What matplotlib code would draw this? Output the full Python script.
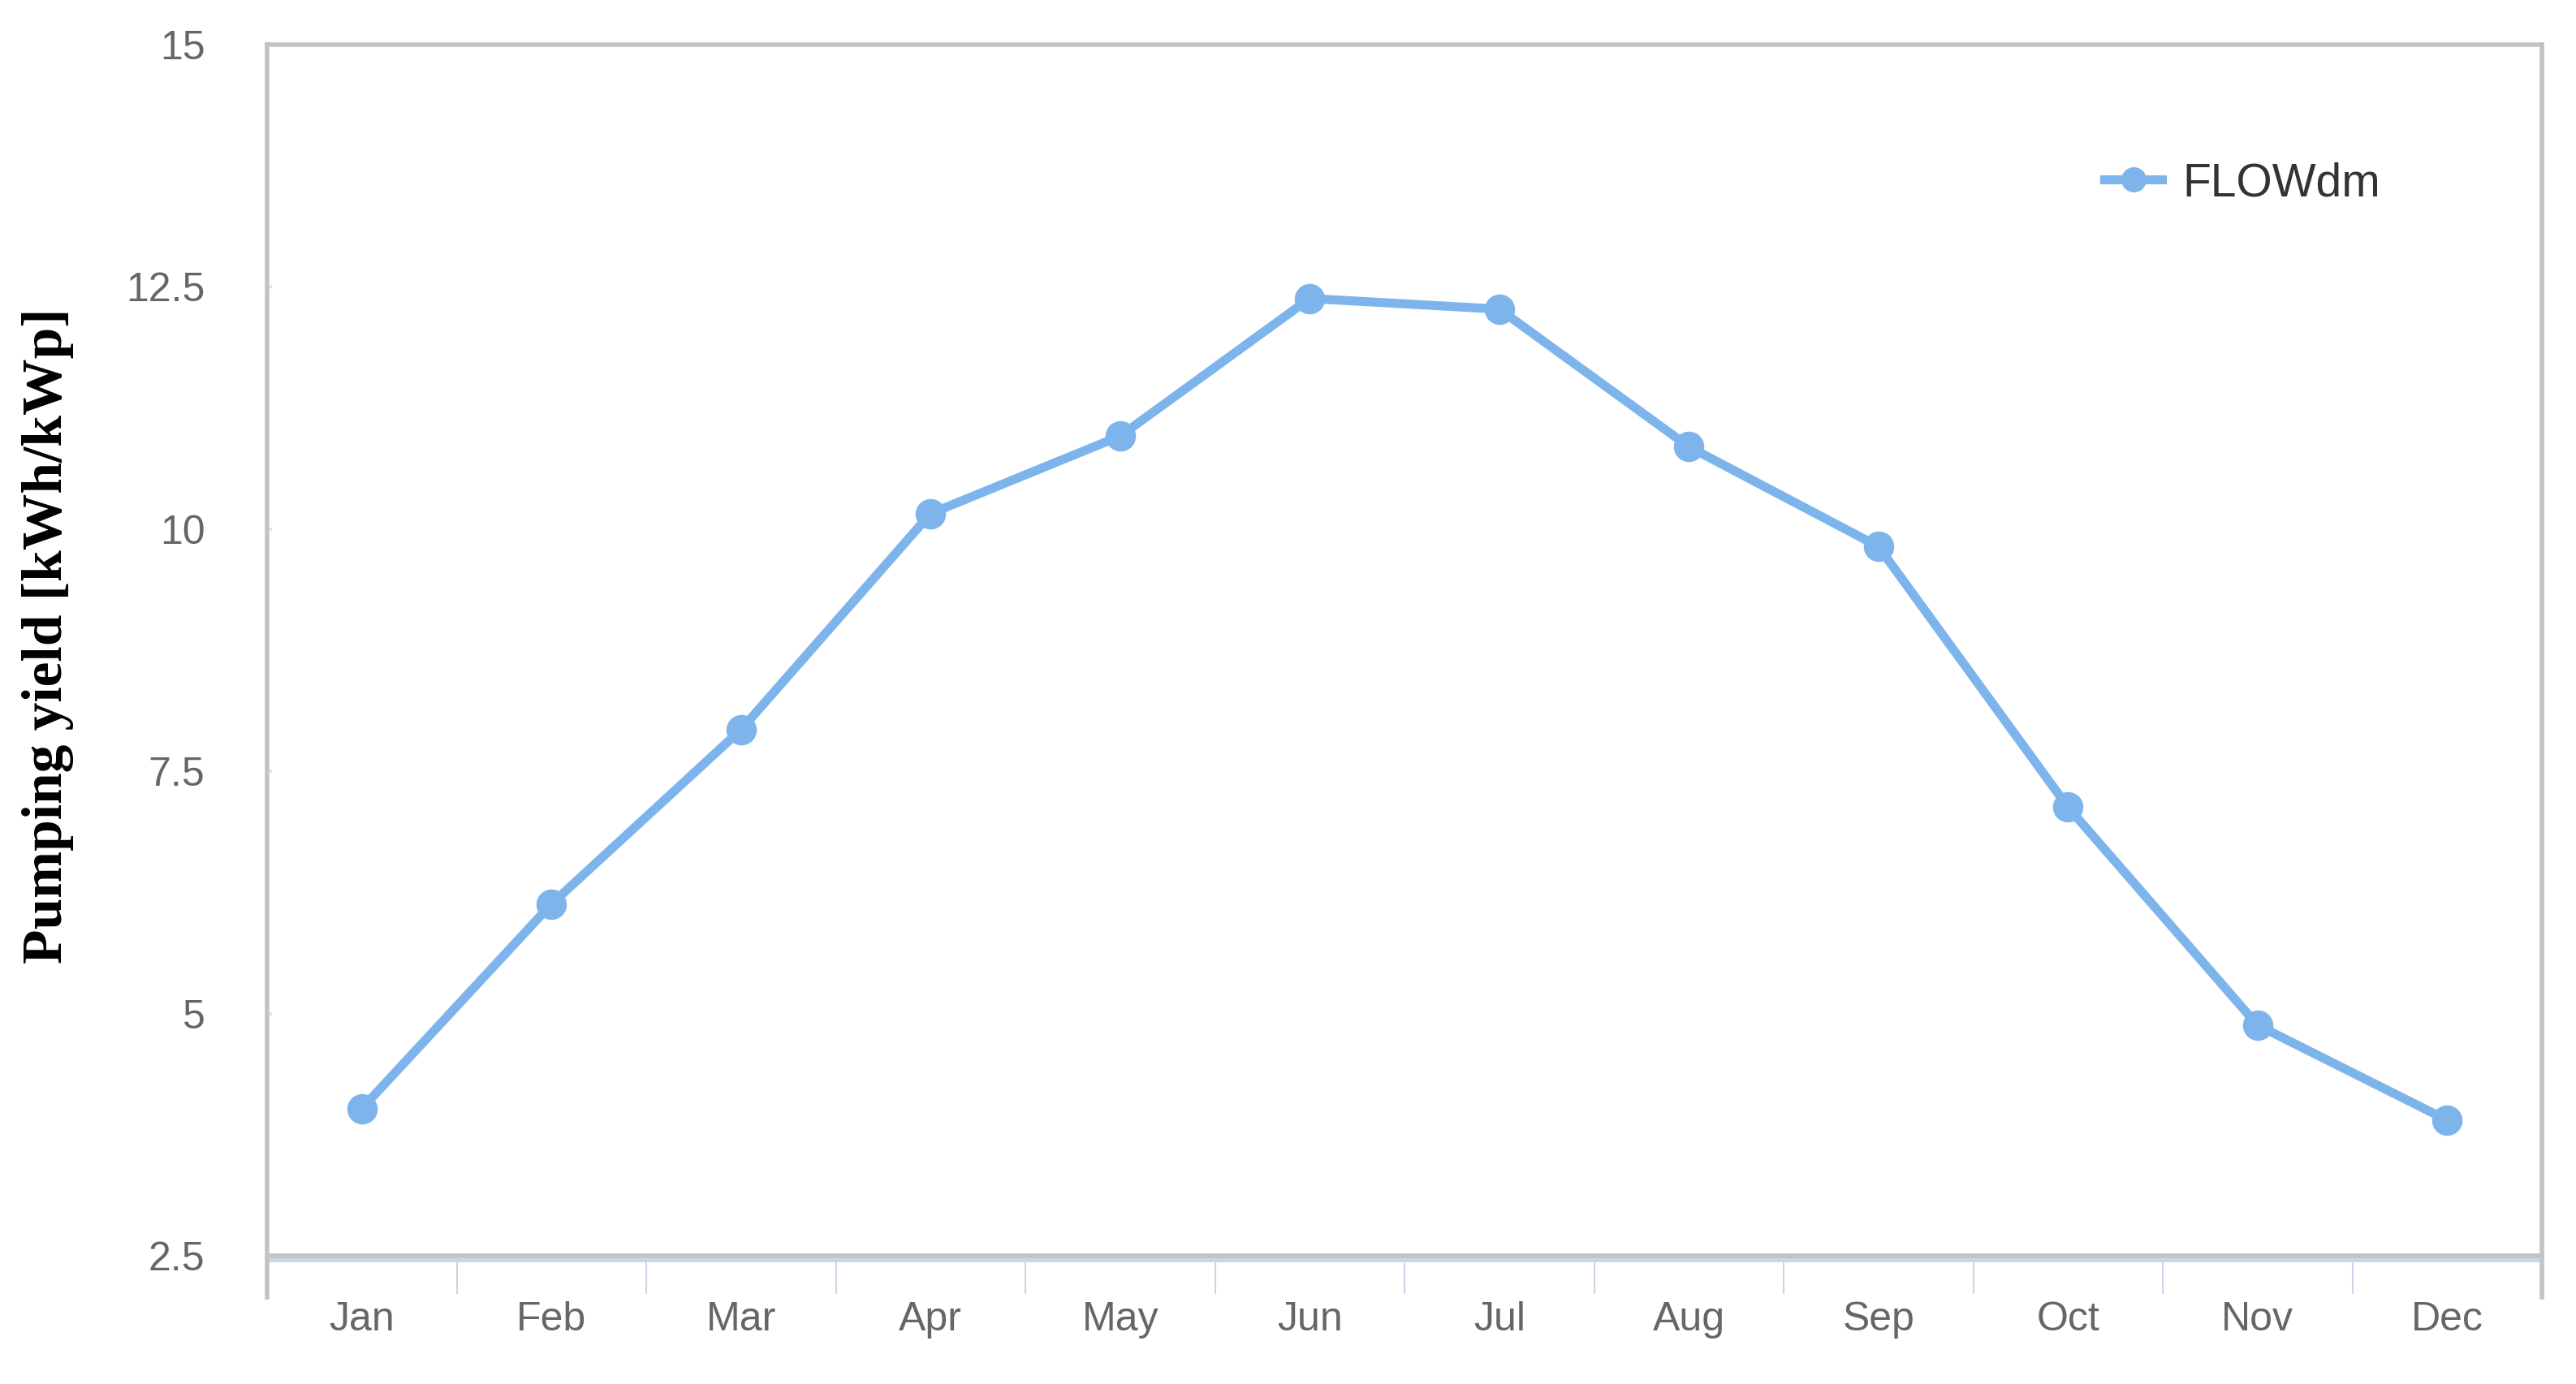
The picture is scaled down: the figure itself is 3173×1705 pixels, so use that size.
import numpy as np
import matplotlib
matplotlib.use('Agg')
import matplotlib.pyplot as plt
from matplotlib import font_manager
import matplotlib.transforms as mtransforms

months = ['Jan', 'Feb', 'Mar', 'Apr', 'May', 'Jun', 'Jul', 'Aug', 'Sep', 'Oct', 'Nov', 'Dec']
flowdm = [4.02, 6.13, 7.93, 10.16, 10.96, 12.38, 12.27, 10.85, 9.82, 7.13, 4.88, 3.90]
yticks = [2.5, 5, 7.5, 10, 12.5, 15]
ytick_labels = ['2.5', '5', '7.5', '10', '12.5', '15']

names = set(f.name for f in font_manager.fontManager.ttflist)
if 'Liberation Sans Narrow' in names:
    tick_font = ['Liberation Sans Narrow', 'DejaVu Sans']
    tick_size = 43
else:
    tick_font = ['Liberation Sans', 'DejaVu Sans']
    tick_size = 36

line_col = '#7eb4ec'
spine_col = '#c3c3c3'
band_col = '#cbd5e8'

W, H = 3173, 1705
fig = plt.figure(figsize=(W / 100, H / 100), dpi=100)
x0, x1, y0, y1 = 329, 3131, 55, 1547
ax = fig.add_axes([x0 / W, 1 - y1 / H, (x1 - x0) / W, (y1 - y0) / H])

x = np.arange(len(months))
ax.plot(x, flowdm, color=line_col, lw=8, marker='o', markersize=26,
        label='FLOWdm', solid_joinstyle='round')

ax.set_xlim(-0.5, 11.5)
ax.set_ylim(2.5, 15)

for s in ax.spines.values():
    s.set_color(spine_col)
    s.set_linewidth(4)

ax.set_yticks(yticks)
ax.set_yticklabels(ytick_labels, family=tick_font, fontsize=tick_size, color='#666666')
ax.tick_params(axis='y', direction='in', length=4, width=3, color='#e6e6e6', pad=55)

ax.set_xticks(x)
ax.set_xticklabels(months, family=tick_font, fontsize=tick_size, color='#666666')
ax.tick_params(axis='x', which='major', length=0, pad=40)
ax.set_xticks(np.arange(0.5, 11, 1), minor=True)
ax.tick_params(axis='x', which='minor', direction='out', length=34, width=1.5, color=band_col)

# light blue band under the bottom axis line
off = mtransforms.offset_copy(ax.transAxes, fig=fig, x=0, y=-4.5, units='dots')
ax.plot([0, 1], [0, 0], transform=off, color=band_col, lw=4.5, clip_on=False, solid_capstyle='butt')
# edges extend down past the axis
for xe in (0, 1):
    ax.plot([xe, xe], [0, -0.036], transform=ax.transAxes, color=spine_col, lw=4,
            clip_on=False, solid_capstyle='butt')

ax.set_ylabel('Pumping yield [kWh/kWp]', family='Liberation Serif', fontweight='bold',
              fontsize=50, color='black')
ax.yaxis.set_label_coords(-0.085, 0.512)

fig.legend(loc='center left', bbox_to_anchor=(2592 / W, 1 - 226 / H), frameon=False,
           prop={'family': ['Liberation Sans', 'DejaVu Sans'], 'size': 41},
           labelcolor='#333333', handlelength=1.25, handletextpad=0.44,
           borderpad=0, borderaxespad=0, markerscale=0.82)

fig.savefig('out.png', dpi=100, facecolor='white')
